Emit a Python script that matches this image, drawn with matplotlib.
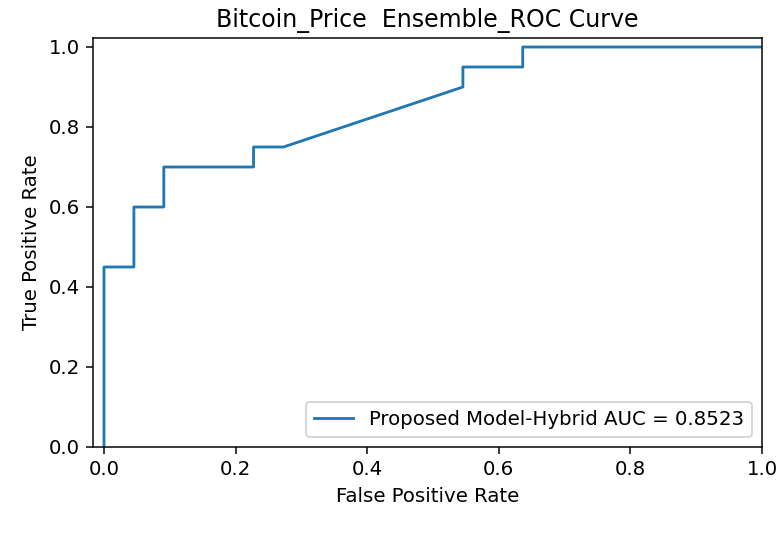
import matplotlib
matplotlib.use("Agg")
import matplotlib.pyplot as plt

# ROC points of the hybrid ensemble (22 negatives, 20 positives)
fpr = [0.0, 0.0, 1/22, 1/22, 2/22, 2/22, 5/22, 5/22, 6/22, 12/22, 12/22, 14/22, 14/22, 1.0]
tpr = [0.0, 0.45, 0.45, 0.60, 0.60, 0.70, 0.70, 0.75, 0.75, 0.90, 0.95, 0.95, 1.0, 1.0]
auc_value = 0.8523
model_name = "Proposed Model-Hybrid"

plt.rcParams['font.size'] = 10.5

fig = plt.figure(figsize=(777/135, 537/135), dpi=135)
ax = fig.add_axes([93/777, 90/537, 669/777, 409/537])

ax.plot(fpr, tpr, label=f"{model_name} AUC = {auc_value:.4f}")
ax.set_xlim([-0.0167, 1.0])
ax.set_ylim([0.0, 1.0225])
ax.set_xlabel("False Positive Rate")
ax.set_ylabel("True Positive Rate")
ax.set_title("Bitcoin_Price  Ensemble_ROC Curve")
ax.legend(loc="lower right")

fig.savefig("out.png", dpi=135)
